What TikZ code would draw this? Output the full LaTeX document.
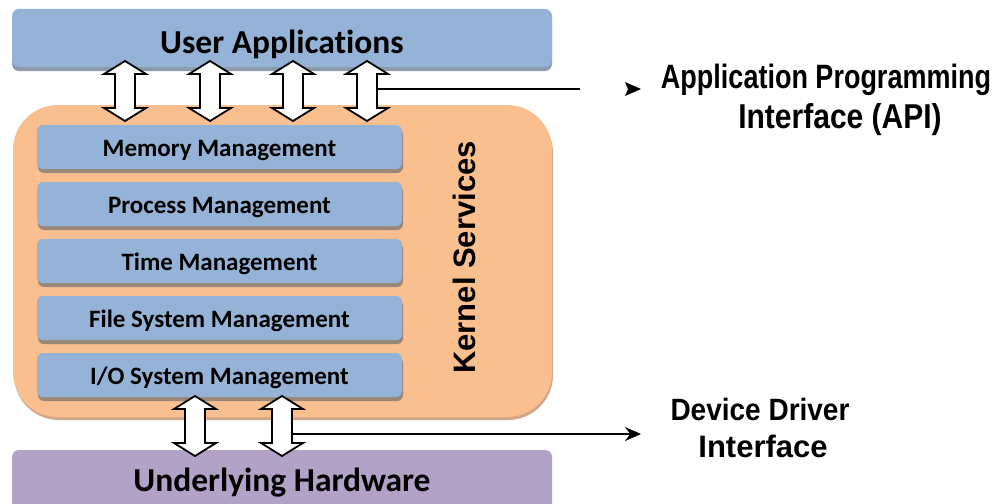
\documentclass[tikz,border=0pt]{standalone}
\usepackage{fontspec}
\usepackage{graphicx}
\setmainfont{Carlito}[Ligatures=NoCommon]
\newfontfamily\arialf{Liberation Sans}
\usetikzlibrary{arrows.meta,shadows}
\definecolor{ublue}{HTML}{95B3D7}
\definecolor{ushadow}{HTML}{8E9BAC}
\definecolor{korange}{HTML}{F9BF8F}
\definecolor{kshadow}{HTML}{D2A686}
\definecolor{ishadow}{HTML}{9A8778}
\definecolor{hpurple}{HTML}{B2A2C7}
\tikzset{
  bigbox/.style={rounded corners=7pt, inner sep=0pt},
  bigtext/.style={inner sep=0pt, font=\fontsize{33.5}{36}\selectfont\bfseries},
  svcbox/.style={fill=ublue, rounded corners=6pt, minimum width=365pt, minimum height=44pt, inner sep=0pt,
     text height=19pt, text depth=0pt,
     general shadow={fill=ishadow, shadow yshift=-4pt, shadow xshift=1pt},
     font=\fontsize{25}{28}\selectfont\bfseries},
  lbl/.style={inner sep=0pt, anchor=base},
  conn/.style={line width=2.2pt},
  dblarrow/.pic={\draw[line width=1.8pt, fill=white, line join=miter]
     (0,0) -- (21,13) -- (10,13) -- (10,47) -- (21,47) -- (0,60) -- (-21,47) -- (-10,47) -- (-10,13) -- (-21,13) -- cycle;}
}
\begin{document}
\begin{tikzpicture}[x=1pt,y=-1pt]
\useasboundingbox (0,0) rectangle (995,503);
\begin{scope}
\clip (0,0) rectangle (995,503);
% kernel
\node[fill=korange, rounded corners=45pt, minimum width=539pt, minimum height=312pt, inner sep=0pt,
  general shadow={fill=kshadow, shadow yshift=-3pt, shadow xshift=1pt}] (kernel) at (282.5,261) {};
% user applications
\node[bigbox, fill=ublue, minimum width=540pt, minimum height=58pt,
  general shadow={fill=ushadow, shadow yshift=-4pt}] (user) at (282,38) {};
\node[bigtext] (usertext) at (282,44) {User Applications};
% hardware
\node[bigbox, fill=hpurple, minimum width=540pt, minimum height=64pt] (hw) at (282,482) {};
\node[bigtext] (hwtext) at (282,483) {Underlying Hardware};
% services
\node[svcbox] (mem) at (219.5,147) {Memory Management};
\node[svcbox] (proc) at (219.5,204) {Process Management};
\node[svcbox] (time) at (219.5,261) {Time Management};
\node[svcbox] (fs) at (219.5,318) {File System Management};
\node[svcbox] (io) at (219.5,375) {I/O System Management};
\node[font=\arialf\bfseries\fontsize{31}{34}\selectfont, rotate=90, inner sep=0pt] (ks) at (464,257.5) {Kernel Services};
% block arrows
\pic at (125,61) {dblarrow};
\pic at (210,61) {dblarrow};
\pic at (293,61) {dblarrow};
\pic at (367,61) {dblarrow};
\pic at (195,396) {dblarrow};
\pic at (282,396) {dblarrow};
\end{scope}
\coordinate (apistart) at (377,89);
\coordinate (apiend) at (580,89);
\coordinate (apitip) at (641,89);
\coordinate (ddstart) at (292,434);
\coordinate (ddtip) at (641,434);
\draw[conn] (apistart) -- (apiend);
\fill (apitip) -- ++(-16,-7) -- ++(3,7) -- ++(-3,7) -- cycle;
\draw[conn, -{Stealth[length=16pt,width=14pt]}] (ddstart) -- (ddtip);
% labels
\node[lbl, font=\arialf\bfseries\fontsize{27}{30}\selectfont] (api1) at (826,88) {\scalebox{1}[1.25]{Application Programming}};
\node[lbl, font=\arialf\bfseries\fontsize{30}{33}\selectfont] (api2) at (840,128) {\scalebox{1}[1.15]{Interface (API)}};
\node[lbl, font=\arialf\bfseries\fontsize{28}{31}\selectfont] (dd1) at (760,420) {\scalebox{1}[1.1]{Device Driver}};
\node[lbl, font=\arialf\bfseries\fontsize{31}{34}\selectfont] (dd2) at (763,457) {Interface};
\end{tikzpicture}
\end{document}
